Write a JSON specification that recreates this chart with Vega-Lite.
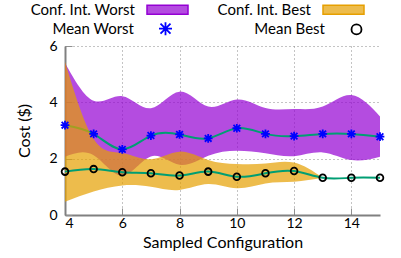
{
  "$schema": "https://vega.github.io/schema/vega-lite/v6.json",
  "width": 315,
  "height": 169,
  "autosize": {"type": "none"},
  "padding": {"left": 65, "top": 46, "right": 21, "bottom": 43},
  "config": {
    "font": "Lato",
    "view": {"stroke": null},
    "axis": {
      "domainColor": "#808080",
      "domainWidth": 2,
      "gridColor": "#888888",
      "gridDash": [1, 3],
      "gridWidth": 1,
      "tickColor": "#909090",
      "tickSize": -7,
      "tickWidth": 1,
      "labelFontSize": 14,
      "labelColor": "#000000",
      "titleFontSize": 16,
      "titleFontWeight": "normal",
      "titleColor": "#000000"
    },
    "legend": {"labelFontSize": 15, "labelColor": "#000000", "padding": 0}
  },
  "data": {
    "values": [
      {"x": 4, "series": "Worst", "band": "Conf. Int. Worst", "est": "Mean Worst", "mean": 3.19, "lo": 2.07, "hi": 5.4},
      {"x": 5, "series": "Worst", "band": "Conf. Int. Worst", "est": "Mean Worst", "mean": 2.88, "lo": 2.12, "hi": 4.06},
      {"x": 6, "series": "Worst", "band": "Conf. Int. Worst", "est": "Mean Worst", "mean": 2.33, "lo": 1.4, "hi": 4.22},
      {"x": 7, "series": "Worst", "band": "Conf. Int. Worst", "est": "Mean Worst", "mean": 2.82, "lo": 2.08, "hi": 3.79},
      {"x": 8, "series": "Worst", "band": "Conf. Int. Worst", "est": "Mean Worst", "mean": 2.86, "lo": 1.78, "hi": 4.38},
      {"x": 9, "series": "Worst", "band": "Conf. Int. Worst", "est": "Mean Worst", "mean": 2.72, "lo": 2.1, "hi": 3.85},
      {"x": 10, "series": "Worst", "band": "Conf. Int. Worst", "est": "Mean Worst", "mean": 3.08, "lo": 2.28, "hi": 4.1},
      {"x": 11, "series": "Worst", "band": "Conf. Int. Worst", "est": "Mean Worst", "mean": 2.88, "lo": 2.19, "hi": 3.8},
      {"x": 12, "series": "Worst", "band": "Conf. Int. Worst", "est": "Mean Worst", "mean": 2.8, "lo": 2.09, "hi": 3.76},
      {"x": 13, "series": "Worst", "band": "Conf. Int. Worst", "est": "Mean Worst", "mean": 2.88, "lo": 2.22, "hi": 3.85},
      {"x": 14, "series": "Worst", "band": "Conf. Int. Worst", "est": "Mean Worst", "mean": 2.88, "lo": 1.95, "hi": 4.26},
      {"x": 15, "series": "Worst", "band": "Conf. Int. Worst", "est": "Mean Worst", "mean": 2.78, "lo": 2.07, "hi": 3.5},
      {"x": 4, "series": "Best", "band": "Conf. Int. Best", "est": "Mean Best", "mean": 1.54, "lo": 0.47, "hi": 5.44},
      {"x": 5, "series": "Best", "band": "Conf. Int. Best", "est": "Mean Best", "mean": 1.63, "lo": 0.83, "hi": 2.7},
      {"x": 6, "series": "Best", "band": "Conf. Int. Best", "est": "Mean Best", "mean": 1.52, "lo": 1.05, "hi": 2.2},
      {"x": 7, "series": "Best", "band": "Conf. Int. Best", "est": "Mean Best", "mean": 1.48, "lo": 1.0, "hi": 1.98},
      {"x": 8, "series": "Best", "band": "Conf. Int. Best", "est": "Mean Best", "mean": 1.4, "lo": 0.89, "hi": 2.25},
      {"x": 9, "series": "Best", "band": "Conf. Int. Best", "est": "Mean Best", "mean": 1.54, "lo": 1.1, "hi": 1.95},
      {"x": 10, "series": "Best", "band": "Conf. Int. Best", "est": "Mean Best", "mean": 1.36, "lo": 0.95, "hi": 1.81},
      {"x": 11, "series": "Best", "band": "Conf. Int. Best", "est": "Mean Best", "mean": 1.48, "lo": 1.12, "hi": 1.83},
      {"x": 12, "series": "Best", "band": "Conf. Int. Best", "est": "Mean Best", "mean": 1.56, "lo": 1.18, "hi": 1.86},
      {"x": 13, "series": "Best", "band": "Conf. Int. Best", "est": "Mean Best", "mean": 1.32, "lo": 1.32, "hi": 1.32},
      {"x": 14, "series": "Best", "band": "Conf. Int. Best", "est": "Mean Best", "mean": 1.32, "lo": null, "hi": null},
      {"x": 15, "series": "Best", "band": "Conf. Int. Best", "est": "Mean Best", "mean": 1.32, "lo": null, "hi": null}
    ]
  },
  "encoding": {
    "x": {
      "field": "x",
      "type": "quantitative",
      "scale": {"domain": [4, 15], "nice": false, "zero": false},
      "axis": {"values": [4, 6, 8, 10, 12, 14], "title": "Sampled Configuration", "labelPadding": 8, "titlePadding": 4}
    }
  },
  "layer": [
    {
      "transform": [{"filter": "datum.series === 'Worst'"}],
      "mark": {"type": "area", "interpolate": "natural", "fillOpacity": 0.7},
      "encoding": {
        "y": {"field": "lo", "type": "quantitative", "scale": {"domain": [0, 6], "nice": false}, "axis": {"values": [0, 1, 2, 3, 4, 5, 6], "title": "Cost ($)", "labelPadding": 15, "titlePadding": 16}},
        "y2": {"field": "hi"},
        "fill": {
          "field": "band",
          "type": "nominal",
          "scale": {"domain": ["Conf. Int. Worst", "Conf. Int. Best"], "range": ["#9400d3", "#e69f00"]},
          "legend": {
            "title": null,
            "orient": "none",
            "legendX": 81,
            "legendY": -58,
            "direction": "horizontal",
            "columns": 2,
            "columnPadding": 26,
            "symbolType": "M-1,-0.22H1V0.22H-1Z",
            "symbolSize": 1681,
            "labelAlign": "right",
            "labelOffset": -54,
            "encode": {"symbols": {"update": {"fillOpacity": {"value": 0.7}, "stroke": {"scale": "fill", "field": "value"}, "strokeWidth": {"value": 1.5}}}}
          }
        }
      }
    },
    {
      "transform": [{"filter": "datum.series === 'Worst'"}],
      "mark": {"type": "line", "interpolate": "natural", "color": "#009e73", "strokeWidth": 2},
      "encoding": {
        "y": {"field": "mean", "type": "quantitative", "axis": {"title": "Cost ($)"}}
      }
    },
    {
      "transform": [{"filter": "datum.series === 'Best'"}],
      "mark": {"type": "area", "interpolate": "natural", "fillOpacity": 0.7},
      "encoding": {
        "y": {"field": "lo", "type": "quantitative", "axis": {"title": "Cost ($)"}},
        "y2": {"field": "hi"},
        "fill": {"field": "band", "type": "nominal"}
      }
    },
    {
      "transform": [{"filter": "datum.series === 'Best'"}],
      "mark": {"type": "line", "interpolate": "natural", "color": "#009e73", "strokeWidth": 2},
      "encoding": {
        "y": {"field": "mean", "type": "quantitative", "axis": {"title": "Cost ($)"}}
      }
    },
    {
      "mark": {"type": "point", "filled": false, "size": 45, "strokeWidth": 1.8, "opacity": 1},
      "encoding": {
        "y": {"field": "mean", "type": "quantitative", "axis": {"title": "Cost ($)"}},
        "shape": {
          "field": "est",
          "type": "nominal",
          "scale": {"domain": ["Mean Worst", "Mean Best"], "range": ["M-1.3,0L1.3,0M0,-1.3L0,1.3M-1,-1L1,1M-1,1L1,-1", "circle"]},
          "legend": {
            "title": null,
            "orient": "none",
            "legendX": 81,
            "legendY": -25,
            "direction": "horizontal",
            "columns": 2,
            "columnPadding": 78,
            "labelAlign": "right",
            "labelOffset": -39,
            "symbolOffset": 12,
            "symbolStrokeWidth": 1.8
          }
        },
        "stroke": {
          "field": "est",
          "type": "nominal",
          "scale": {"domain": ["Mean Worst", "Mean Best"], "range": ["#0000ff", "#000000"]},
          "legend": {
            "title": null,
            "orient": "none",
            "legendX": 81,
            "legendY": -25,
            "direction": "horizontal",
            "columns": 2,
            "columnPadding": 78,
            "labelAlign": "right",
            "labelOffset": -39,
            "symbolOffset": 12,
            "symbolStrokeWidth": 1.8
          }
        }
      }
    }
  ]
}
